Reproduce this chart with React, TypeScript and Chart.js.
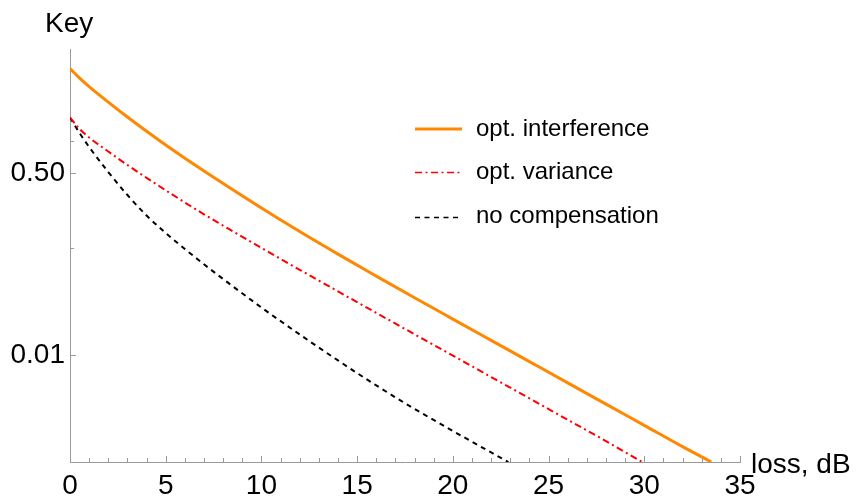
import React, { useEffect, useRef } from 'react';
import { Chart, registerables } from 'chart.js';

Chart.register(...registerables);

const FONT = '"Liberation Sans", Arial, Helvetica, sans-serif';
const AXIS_COLOR = '#9a9a9a';

// ---- data ----
const seriesNames = ['opt. interference', 'opt. variance', 'no compensation'];
const seriesColors = ['rgb(255,136,0)', 'rgb(255,0,0)', 'rgb(0,0,0)'];

const interferenceLoss = [0, 0.5, 1, 2, 3, 4, 5, 6, 7, 8, 10, 12, 14, 16, 18, 20, 22, 24, 26, 28, 30, 32, 33.5];
const interferenceKey = [4.73, 3.85, 3.21, 2.3, 1.667, 1.226, 0.913, 0.688, 0.522, 0.399, 0.236, 0.1422, 0.0874, 0.0545, 0.0342, 0.02162, 0.01369, 0.00867, 0.00549, 0.00347, 0.0022, 0.00139, 0.001];

const varianceLoss = [0, 0.5, 1, 2, 3, 4, 5, 6, 7, 8, 10, 12, 14, 16, 18, 20, 22, 24, 26, 28, 29.9];
const varianceKey = [1.649, 1.288, 1.073, 0.794, 0.594, 0.451, 0.345, 0.2652, 0.2058, 0.1614, 0.0997, 0.0624, 0.0392, 0.0247, 0.01559, 0.00986, 0.00622, 0.00393, 0.00248, 0.001566, 0.001];

const noCompLoss = [0, 0.5, 1, 2, 3, 4, 5, 6, 7, 8, 10, 12, 14, 16, 18, 20, 22, 22.9];
const noCompKey = [1.649, 1.182, 0.875, 0.511, 0.3115, 0.2006, 0.1376, 0.0976, 0.0702, 0.0512, 0.02774, 0.01553, 0.00888, 0.00519, 0.00313, 0.00195, 0.001228, 0.001];

// ---- ticks ----
const xTickValues = [0, 1, 2, 3, 4, 5, 6, 7, 8, 9, 10, 11, 12, 13, 14, 15, 16, 17, 18, 19, 20, 21, 22, 23, 24, 25, 26, 27, 28, 29, 30, 31, 32, 33, 34, 35];
const xLabelValues = [0, 5, 10, 15, 20, 25, 30, 35];
const yMajorTicks = [0.01, 0.5];
const yMajorLabels = ['0.01', '0.50'];
const yMinorTicks = [0.001, 0.1, 1];

const xTitle = 'loss, dB';
const yTitle = 'Key';

const toPoints = (xs: number[], ys: number[]) => xs.map((x, i) => ({ x, y: ys[i] }));

const decorPlugin = {
  id: 'decor',
  afterDatasetsDraw(chart: any) {
    const { ctx, chartArea, scales } = chart;
    const xs = scales.x;
    const ys = scales.y;
    ctx.save();
    // tick marks (inside the plot)
    ctx.strokeStyle = AXIS_COLOR;
    ctx.lineWidth = 1;
    ctx.beginPath();
    for (const v of xTickValues) {
      const p = Math.round(xs.getPixelForValue(v)) + 0.5;
      const len = xLabelValues.includes(v) ? 6 : 4;
      ctx.moveTo(p, chartArea.bottom);
      ctx.lineTo(p, chartArea.bottom - len);
    }
    const yAll = [...yMajorTicks.map((v) => [v, 6]), ...yMinorTicks.map((v) => [v, 4])];
    for (const [v, len] of yAll) {
      const p = Math.round(ys.getPixelForValue(v)) + 0.5;
      ctx.moveTo(chartArea.left, p);
      ctx.lineTo(chartArea.left + len, p);
    }
    ctx.stroke();

    // axis titles
    ctx.fillStyle = '#000';
    ctx.font = `28px ${FONT}`;
    ctx.textBaseline = 'alphabetic';
    ctx.textAlign = 'left';
    ctx.fillText(yTitle, 45, 32);
    ctx.fillText(xTitle, 751, 473);

    // legend
    const rowLine = [129, 172.5, 217.5];
    const rowText = [135.5, 179, 222.5];
    const dashes = [[], [7, 3.5, 2, 3.5], [5, 4.5]];
    const widths = [3, 1.6, 1.6];
    ctx.font = `24px ${FONT}`;
    seriesNames.forEach((name, i) => {
      ctx.save();
      ctx.strokeStyle = seriesColors[i];
      ctx.lineWidth = widths[i];
      ctx.setLineDash(dashes[i]);
      ctx.beginPath();
      ctx.moveTo(415, rowLine[i]);
      ctx.lineTo(462, rowLine[i]);
      ctx.stroke();
      ctx.restore();
      ctx.fillStyle = '#000';
      ctx.fillText(name, 476, rowText[i]);
    });
    ctx.restore();
  },
};

export default function App() {
  const ref = useRef<HTMLCanvasElement | null>(null);

  useEffect(() => {
    if (!ref.current) return;
    const chart = new Chart(ref.current, {
      type: 'scatter',
      data: {
        datasets: [
          {
            label: seriesNames[0],
            data: toPoints(interferenceLoss, interferenceKey),
            showLine: true,
            borderColor: seriesColors[0],
            borderWidth: 3,
            pointRadius: 0,
            cubicInterpolationMode: 'monotone',
          },
          {
            label: seriesNames[1],
            data: toPoints(varianceLoss, varianceKey),
            showLine: true,
            borderColor: seriesColors[1],
            borderWidth: 2,
            borderDash: [7, 3.5, 2, 3.5],
            pointRadius: 0,
            cubicInterpolationMode: 'monotone',
          },
          {
            label: seriesNames[2],
            data: toPoints(noCompLoss, noCompKey),
            showLine: true,
            borderColor: seriesColors[2],
            borderWidth: 2,
            borderDash: [5, 4.5],
            pointRadius: 0,
            cubicInterpolationMode: 'monotone',
          },
        ],
      },
      options: {
        animation: false,
        responsive: false,
        devicePixelRatio: 1,
        layout: { padding: { left: 0, right: 117, top: 49, bottom: 0 } },
        plugins: { legend: { display: false }, tooltip: { enabled: false } },
        scales: {
          x: {
            type: 'linear',
            min: 0,
            max: 35,
            afterFit: (s: any) => {
              s.height = 35;
            },
            afterBuildTicks: (s: any) => {
              s.ticks = xTickValues.map((v) => ({ value: v }));
            },
            grid: { display: false, drawTicks: false },
            border: { display: true, color: AXIS_COLOR, width: 1 },
            ticks: {
              autoSkip: false,
              maxRotation: 0,
              padding: 7,
              color: '#000',
              font: { family: FONT, size: 28 },
              callback: (v: any) => (xLabelValues.includes(Number(v)) ? String(v) : ''),
            },
          },
          y: {
            type: 'logarithmic',
            min: 0.001,
            max: 7.2,
            afterFit: (s: any) => {
              s.width = 70;
            },
            afterBuildTicks: (s: any) => {
              s.ticks = [...yMinorTicks, ...yMajorTicks].sort((a, b) => a - b).map((v) => ({ value: v }));
            },
            grid: { display: false, drawTicks: false },
            border: { display: true, color: AXIS_COLOR, width: 1 },
            ticks: {
              autoSkip: false,
              padding: 5,
              color: '#000',
              font: { family: FONT, size: 28 },
              callback: (v: any) => {
                const i = yMajorTicks.indexOf(Number(v));
                return i >= 0 ? yMajorLabels[i] : '';
              },
            },
          },
        },
      },
      plugins: [decorPlugin],
    } as any);
    return () => chart.destroy();
  }, []);

  return (
    <div style={{ position: 'fixed', left: 0, top: 0, width: 857, height: 497, background: '#fff' }}>
      <canvas ref={ref} width={857} height={497} />
    </div>
  );
}
